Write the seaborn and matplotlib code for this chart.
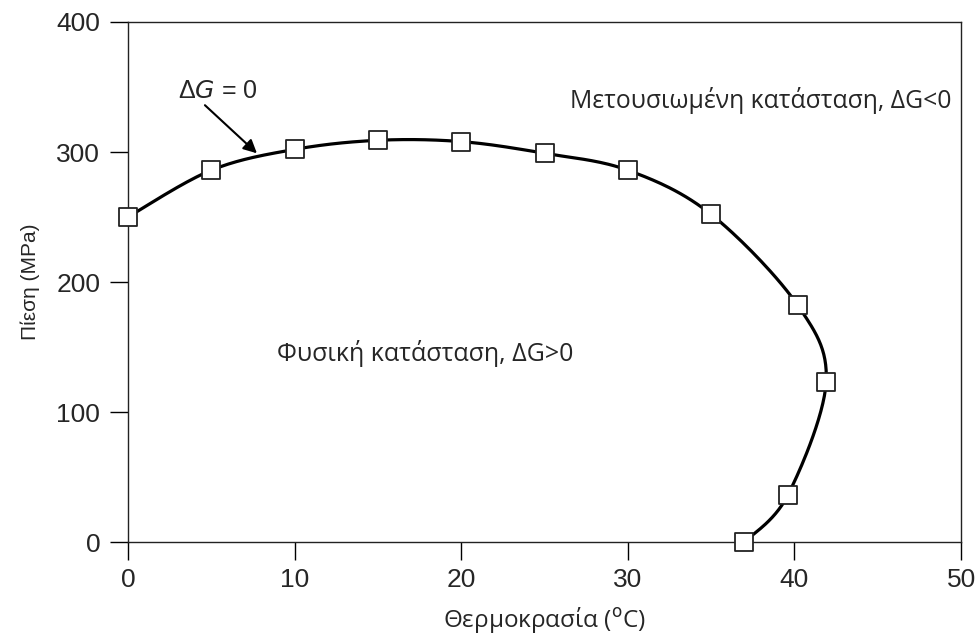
import numpy as np
import pandas as pd
import matplotlib
matplotlib.use("Agg")
import matplotlib.pyplot as plt
import seaborn as sns

# Data
temperature = [0, 5, 10, 15, 20, 25, 30, 35, 40.2, 41.9, 39.6, 37.0]
pressure = [250, 286, 302, 309, 308, 299, 286, 252, 182, 123, 36, 0]
x_ticks = [0, 10, 20, 30, 40, 50]
y_ticks = [0, 100, 200, 300, 400]

sns.set_theme(style="ticks")
plt.rcParams['font.family'] = ['Liberation Sans', 'DejaVu Sans']

df = pd.DataFrame({"T": temperature, "P": pressure})

# Smooth curve through the points (Catmull-Rom in scaled space)
def catmull_rom(xs, ys, n=30, sx=1.0, sy=1.0):
    p = np.column_stack([np.asarray(xs) * sx, np.asarray(ys) * sy])
    p = np.vstack([p[0], p, p[-1]])
    out = []
    for i in range(1, len(p) - 2):
        p0, p1, p2, p3 = p[i - 1], p[i], p[i + 1], p[i + 2]
        t = np.linspace(0, 1, n, endpoint=False)[:, None]
        seg = 0.5 * ((2 * p1) + (-p0 + p2) * t + (2 * p0 - 5 * p1 + 4 * p2 - p3) * t ** 2
                     + (-p0 + 3 * p1 - 3 * p2 + p3) * t ** 3)
        out.append(seg)
    out.append(p[-2][None, :])
    out = np.vstack(out)
    return out[:, 0] / sx, out[:, 1] / sy

cx, cy = catmull_rom(temperature, pressure, sx=16.66, sy=1.3)
curve = pd.DataFrame({"T": cx, "P": cy})

fig = plt.figure(figsize=(9.79, 6.34), dpi=100)
ax = fig.add_axes([0.1307, 0.1451, 0.851, 0.8202])

sns.lineplot(data=curve, x="T", y="P", sort=False, color="black", linewidth=2.3, ax=ax, zorder=2)
sns.scatterplot(data=df, x="T", y="P", marker="s", s=150, facecolor="white",
                edgecolor="#222222", linewidth=1.3, ax=ax, zorder=3, clip_on=False)

ax.set_xlim(0, 50)
ax.set_ylim(0, 400)
ax.set_xticks(x_ticks)
ax.set_yticks(y_ticks)
ax.tick_params(axis="both", direction="out", length=13, width=1.0, labelsize=19, color="black")
ax.tick_params(axis="x", pad=6)
ax.tick_params(axis="y", pad=7)
for s in ax.spines.values():
    s.set_linewidth(1.0)
    s.set_color("#222222")

ax.set_xlabel("Θερμοκρασία ($^{\\mathrm{o}}$C)", fontsize=17.5, family="Open Sans", labelpad=9)
ax.set_ylabel("Πίεση (MPa)", fontsize=15, labelpad=12)

ax.annotate("", xy=(7.74, 299), xytext=(4.62, 336),
            arrowprops=dict(arrowstyle="-|>", color="black", lw=1.5, mutation_scale=20,
                            shrinkA=0, shrinkB=0))
ax.text(5.4, 347, "Δ$\\it{G}$ = 0", fontsize=18, ha="center", va="center")

ax.text(26.5, 340, "Μετουσιωμένη κατάσταση, ΔG<0", fontsize=17.8, family="Open Sans",
        ha="left", va="center")
ax.text(8.95, 145, "Φυσική κατάσταση, ΔG>0", fontsize=18, family="Open Sans",
        ha="left", va="center")

fig.savefig("out.png", dpi=100)
